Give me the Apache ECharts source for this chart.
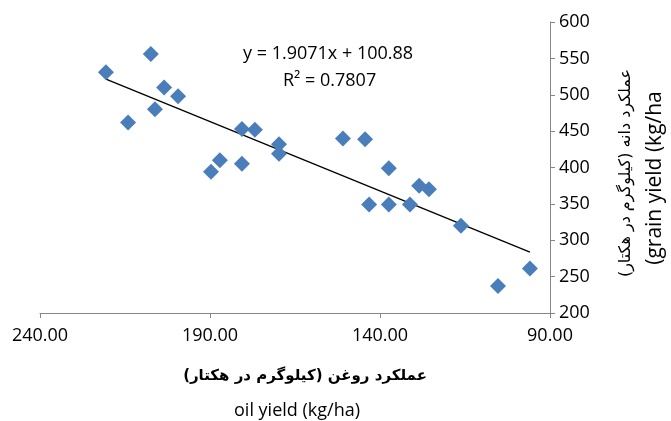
<!DOCTYPE html>
<html>
<head>
<meta charset="utf-8">
<script src="https://cdn.jsdelivr.net/npm/echarts@6/dist/echarts.min.js"></script>
<style>
  html, body { margin: 0; padding: 0; background: #fff; }
  #chart { width: 671px; height: 421px; }
</style>
</head>
<body>
<div id="chart"></div>
<script>
// oil yield (kg/ha) vs grain yield (kg/ha)
const oilYield = [220.6, 214.1, 207.4, 206.2, 203.5, 199.4, 189.7, 187.1, 180.6, 180.6, 176.8, 169.7,
  169.7, 150.9, 144.4, 137.4, 143.2, 137.4, 131.2, 128.5, 125.6, 116.2, 105.3, 95.9]
const grainYield = [531, 462, 556, 480, 510, 498, 394, 410, 453, 405, 452, 432,
  419, 440, 439, 399, 349, 349, 349, 375, 370, 320, 237, 261]
const xTicks = [240, 190, 140, 90]
const yTicks = [200, 250, 300, 350, 400, 450, 500, 550, 600]
// excel trendline
const slope = 1.9071
const intercept = 100.88
const r2 = 0.7807

const points = oilYield.map((x, i) => [x, grainYield[i]])
const xMin = Math.min(...oilYield)
const xMax = Math.max(...oilYield)
const trend = [[xMax, slope * xMax + intercept], [xMin, slope * xMin + intercept]]

const fontFamily = '"Open Sans", "DejaVu Sans", sans-serif'
const axisColor = '#868686'

const chart = echarts.init(document.getElementById('chart'))
chart.setOption({
  backgroundColor: '#fff',
  animation: false,
  grid: { left: 40, right: 121, top: 22, bottom: 108 },
  xAxis: {
    type: 'value',
    inverse: true,
    min: xTicks[xTicks.length - 1],
    max: xTicks[0],
    interval: 50,
    splitLine: { show: false },
    axisLine: { lineStyle: { color: axisColor } },
    axisTick: { show: true, length: 5, lineStyle: { color: axisColor } },
    axisLabel: {
      margin: 14, color: '#000', fontSize: 18, fontFamily,
      formatter: v => v.toFixed(2)
    }
  },
  yAxis: {
    type: 'value',
    position: 'right',
    min: yTicks[0],
    max: yTicks[yTicks.length - 1],
    interval: 50,
    splitLine: { show: false },
    axisLine: { show: true, lineStyle: { color: axisColor } },
    axisTick: { show: true, length: 5, lineStyle: { color: axisColor } },
    axisLabel: { margin: 9, color: '#000', fontSize: 18, fontFamily }
  },
  series: [{
    type: 'scatter',
    data: points,
    symbol: 'diamond',
    symbolSize: [16, 16],
    itemStyle: { color: '#4a7ebb', opacity: 1 },
    z: 3
  }, {
    type: 'line',
    data: trend,
    showSymbol: false,
    silent: true,
    lineStyle: { color: '#000', width: 1.3 },
    z: 2
  }],
  graphic: [{
    type: 'text', left: 243, top: 45,
    style: { text: 'y = ' + slope + 'x + ' + intercept, fill: '#000', font: '18px ' + fontFamily }
  }, {
    type: 'text', left: 283, top: 72,
    style: { text: 'R² = ' + r2, fill: '#000', font: '18px ' + fontFamily }
  }, {
    type: 'text', x: 305, y: 376,
    style: {
      text: 'عملکرد روغن (کیلوگرم در هکتار)', fill: '#000',
      font: 'bold 15px "DejaVu Sans", sans-serif', align: 'center', verticalAlign: 'middle'
    }
  }, {
    type: 'text', x: 297, y: 411,
    style: {
      text: 'oil yield (kg/ha)', fill: '#000',
      font: '18px ' + fontFamily, align: 'center', verticalAlign: 'middle'
    }
  }, {
    type: 'text', x: 626, y: 173, rotation: Math.PI / 2,
    style: {
      text: 'عملکرد دانه (کیلوگرم در هکتار)', fill: '#000',
      font: '16px "DejaVu Sans", sans-serif', align: 'center', verticalAlign: 'middle'
    }
  }, {
    type: 'text', x: 655, y: 178, rotation: Math.PI / 2,
    style: {
      text: '(grain yield (kg/ha', fill: '#000',
      font: '21px ' + fontFamily, align: 'center', verticalAlign: 'middle'
    }
  }]
})
</script>
</body>
</html>
